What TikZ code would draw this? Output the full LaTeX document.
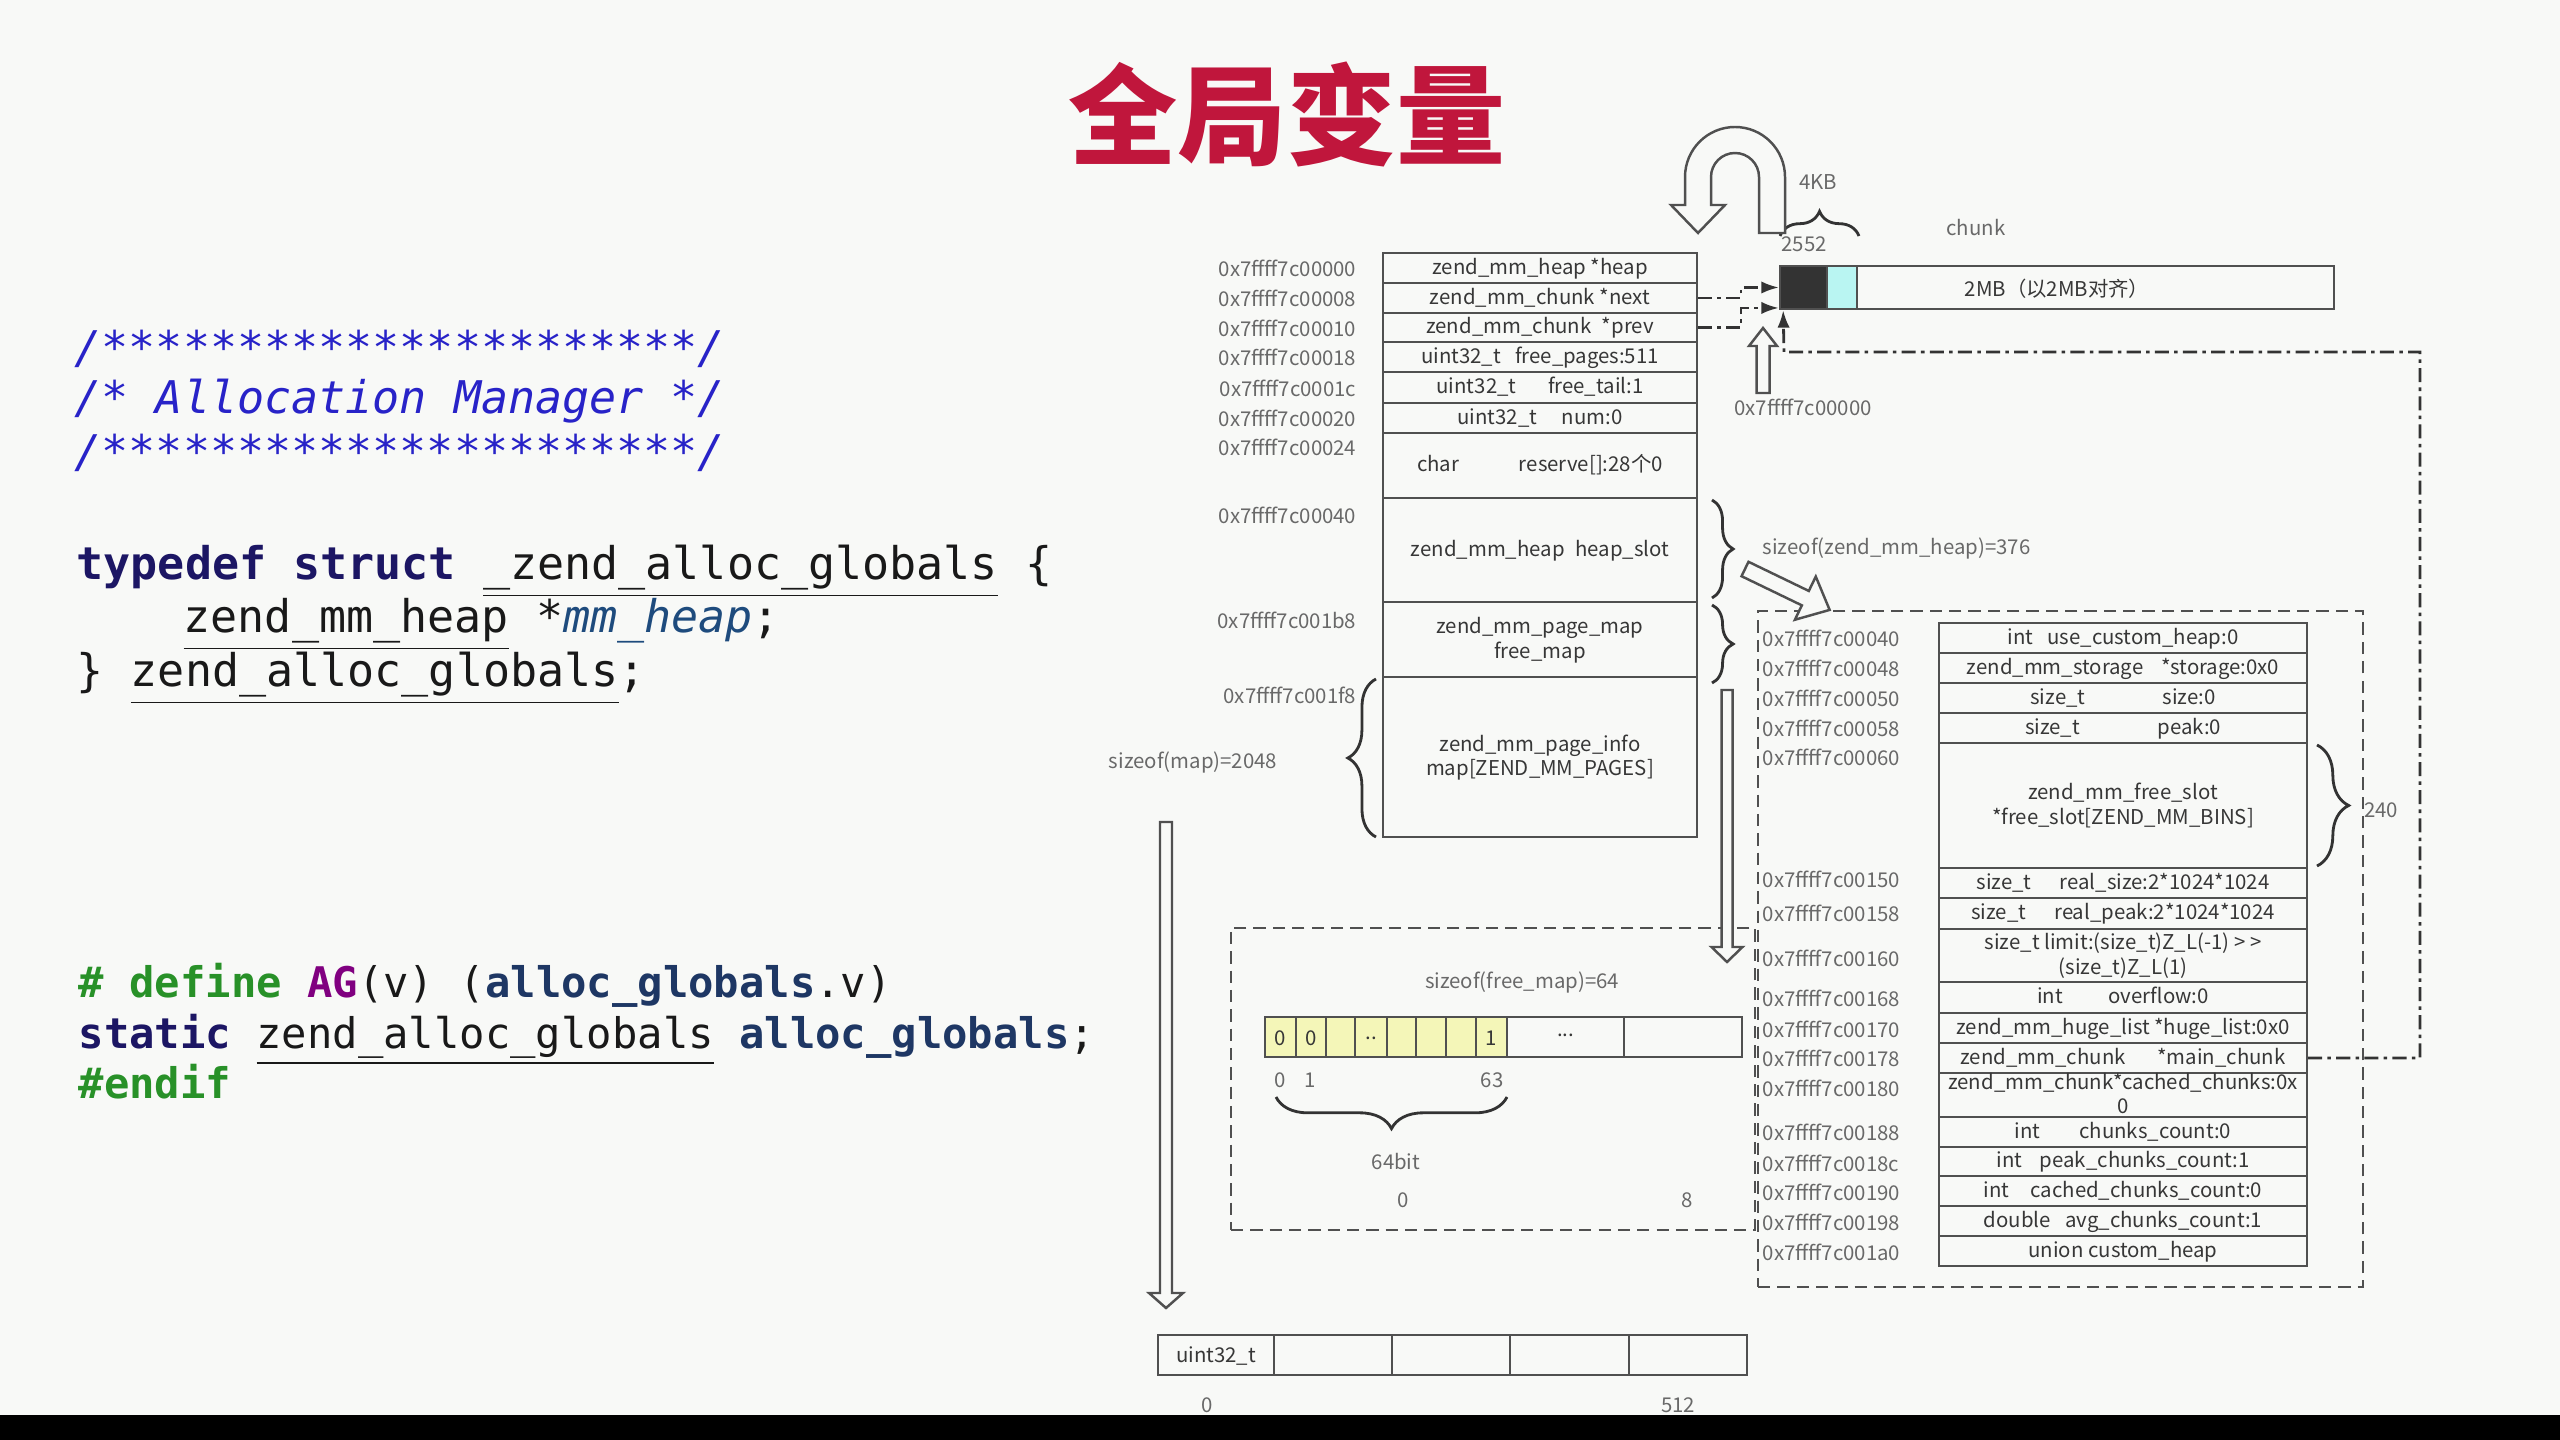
\documentclass[tikz,border=0pt]{standalone}
\usepackage{fontspec}
\usetikzlibrary{arrows.meta,decorations.pathreplacing,fit}
\newfontfamily\cjk{Noto Sans CJK SC}
\newfontfamily\codefont{DejaVu Sans Mono}
\definecolor{bgc}{RGB}{248,249,247}
\definecolor{lc}{RGB}{80,80,80}
\definecolor{tc}{RGB}{55,55,55}
\definecolor{ac}{RGB}{105,105,105}
\definecolor{yel}{RGB}{244,246,184}
\definecolor{cyn}{RGB}{185,245,242}
\definecolor{titlered}{RGB}{192,22,60}
\definecolor{kwnavy}{RGB}{28,22,100}
\definecolor{idblue}{RGB}{30,55,100}
\definecolor{itblue}{RGB}{30,75,125}
\definecolor{cmblue}{RGB}{40,35,200}
\definecolor{ppgreen}{RGB}{40,145,40}
\definecolor{agpurple}{RGB}{128,0,128}
\tikzset{
  cell/.style={draw=lc, line width=.6pt, inner sep=0pt},
  celltxt/.style={inner sep=0pt, yshift=-.4pt, text=tc, font=\cjk\fontsize{5.8}{7}\selectfont},
  addr/.style={inner sep=0pt, text=ac, font=\cjk\fontsize{5.8}{7}\selectfont},
  code/.style={anchor=base west, inner sep=0pt, text=black!90, font=\codefont\fontsize{12.8}{15}\selectfont},
  code2/.style={code, font=\codefont\fontsize{12}{14}\selectfont},
  dsh/.style={draw=lc, line width=.8pt, dash pattern=on 3.5pt off 2pt, inner sep=0pt},
  ptr/.style={draw=black!80, line width=.8pt, dash pattern=on 4pt off 1.5pt on 1pt off 1.5pt, -{Latex[length=5pt,width=3.5pt]}},
  brc/.style={draw=black!80, line width=.8pt, decorate, decoration={brace, amplitude=#1}},
  hol/.style={draw=lc, line width=.7pt, fill=bgc},
  pics/hollow/.style n args={4}{code={
    \draw[hol] (0,-#2) -- (#1-#4,-#2) -- (#1-#4,-#3) -- (#1,0) -- (#1-#4,#3) -- (#1-#4,#2) -- (0,#2) -- cycle;}}
}
\newcommand{\ctr}[1]{\begin{tabular}{@{}c@{}}#1\end{tabular}}
\begin{document}
\begin{tikzpicture}[x=0.01cm, y=-0.01cm]

	\fill[bgc] (0,0) rectangle (2560,1440);
	\fill[black] (0,1415) rectangle (2560,1440);

	% title
	\node[text=titlered, font=\cjk\bfseries\fontsize{31}{34}\selectfont] (title) at (1287,114) {全局变量};

	% source code
	\node[code, text=cmblue] (c1) at (74,364) {\itshape /**********************/};
	\node[code, text=cmblue] (c2) at (74,414) {\itshape /* Allocation Manager */};
	\node[code, text=cmblue] (c3) at (74,468) {\itshape /**********************/};
	\node[code] (c4) at (76,580) {{\bfseries\color{kwnavy}typedef struct} \underline{\_zend\_alloc\_globals} \{};
	\node[code] (c5) at (183,633) {\underline{zend\_mm\_heap} *{\itshape\color{itblue}mm\_heap};};
	\node[code] (c6) at (76,687) {\} \underline{zend\_alloc\_globals};};
	\node[code2] (c7) at (78,998) {{\bfseries\color{ppgreen}\# define} {\bfseries\color{agpurple}AG}(v) ({\bfseries\color{idblue}alloc\_globals}.v)};
	\node[code2] (c8) at (78,1048) {{\bfseries\color{kwnavy}static} \underline{zend\_alloc\_globals} {\bfseries\color{idblue}alloc\_globals};};
	\node[code2] (c9) at (78,1098) {{\bfseries\color{ppgreen}\#endif}};

	% zend_mm_chunk
	\foreach \yt/\yb/\yl/\ad/\tx [count=\i] in {
		253/283/268/0x7ffff7c00000/{zend\_mm\_heap *heap},
		283/313/298/0x7ffff7c00008/{zend\_mm\_chunk *next},
		313/342/328/0x7ffff7c00010/{zend\_mm\_chunk\hspace{3pt}*prev},
		342/372/357/0x7ffff7c00018/{uint32\_t\hspace{4pt}free\_pages:511},
		372/403/388/0x7ffff7c0001c/{uint32\_t\hspace{9pt}free\_tail:1},
		403/433/418/0x7ffff7c00020/{uint32\_t\hspace{7pt}num:0},
		433/498/447/0x7ffff7c00024/{char\hspace{17pt}reserve[]:28个0},
		498/602/515/0x7ffff7c00040/{zend\_mm\_heap\hspace{3pt}heap\_slot},
		602/677/620/0x7ffff7c001b8/{zend\_mm\_page\_map\\free\_map},
		677/837/695/0x7ffff7c001f8/{zend\_mm\_page\_info\\map[ZEND\_MM\_PAGES]}}
	{
		\node[cell, fit={(1383,\yt)(1697,\yb)}] (m\i) {};
		\node[celltxt] (mt\i) at (m\i.center) {\ctr{\tx}};
		\node[addr, anchor=east] (ma\i) at (1357,\yl) {\ad};
	}

	\draw[brc=8pt] (1376,837) -- (1376,679);
	\node[addr] (t2048) at (1193,762) {sizeof(map)=2048};
	\draw[brc=6pt] (1712,500) -- (1712,598);
	\draw[brc=6pt] (1712,605) -- (1712,683);
	\node[addr, anchor=west] (t376) at (1762,548) {sizeof(zend\_mm\_heap)=376};

	% chunk
	\node[cell, fit={(1780,266)(2334,309)}] (chk) {};
	\node[celltxt] (chkt) at (chk.center) {2MB（以2MB对齐）};
	\node[cell, fill=black!80, fit={(1780,266)(1827,309)}] (blk) {};
	\node[cell, fill=cyn, fit={(1827,266)(1857,309)}] (cy) {};
	\node[addr] (tchunk) at (1976,228) {chunk};
	\draw[brc=7pt] (1780,236) -- (1859,236);
	\node[addr] (t4kb) at (1818,182) {4KB};
	\node[addr] (t2552) at (1804,244) {2552};
	\node[addr] (tbase) at (1803,407) {0x7ffff7c00000};

	\draw[hol] (1785,233) -- (1785,177) arc[start angle=0, end angle=-180, radius=50]
		-- (1685,205) -- (1671,205) -- (1698,233) -- (1725,205) -- (1711,205) -- (1711,177)
		arc[start angle=180, end angle=360, radius=24] -- (1759,233) -- cycle;
	\pic[rotate=90] at (1763,393) {hollow={65}{6.5}{14}{18}};

	\draw[ptr] (m2.east) -- (1741,298) |- (blk.west);
	\draw[ptr] (m3.east) -- (1741,327.5) |- ([yshift=.6pt]blk.south west);

	% zend_mm_heap
	\node[dsh, fit={(1758,611)(2363,1287)}] (hp) {};
	\foreach \yt/\yb/\yl/\ad/\tx [count=\i] in {
		623/653/638/0x7ffff7c00040/{int\hspace{4pt}use\_custom\_heap:0},
		653/683/668/0x7ffff7c00048/{zend\_mm\_storage\hspace{5pt}*storage:0x0},
		683/713/698/0x7ffff7c00050/{size\_t\hspace{22pt}size:0},
		713/743/728/0x7ffff7c00058/{size\_t\hspace{22pt}peak:0},
		743/868/757/0x7ffff7c00060/{zend\_mm\_free\_slot\\{}*free\_slot[ZEND\_MM\_BINS]},
		868/898/879/0x7ffff7c00150/{size\_t\hspace{8pt}real\_size:2*1024*1024},
		898/929/913/0x7ffff7c00158/{size\_t\hspace{8pt}real\_peak:2*1024*1024},
		929/982/958/0x7ffff7c00160/{size\_t limit:(size\_t)Z\_L(-1) > >\\(size\_t)Z\_L(1)},
		982/1013/998/0x7ffff7c00168/{int\hspace{13pt}overflow:0},
		1013/1043/1029/0x7ffff7c00170/{zend\_mm\_huge\_list *huge\_list:0x0},
		1043/1073/1058/0x7ffff7c00178/{zend\_mm\_chunk\hspace{9pt}*main\_chunk},
		1073/1117/1088/0x7ffff7c00180/{zend\_mm\_chunk*cached\_chunks:0x\\0},
		1117/1147/1132/0x7ffff7c00188/{int\hspace{11pt}chunks\_count:0},
		1147/1176/1163/0x7ffff7c0018c/{int\hspace{5pt}peak\_chunks\_count:1},
		1176/1206/1192/0x7ffff7c00190/{int\hspace{6pt}cached\_chunks\_count:0},
		1206/1236/1222/0x7ffff7c00198/{double\hspace{4pt}avg\_chunks\_count:1},
		1236/1266/1252/0x7ffff7c001a0/{union custom\_heap}}
	{
		\node[cell, fit={(1939,\yt)(2307,\yb)}] (h\i) {};
		\node[celltxt] (ht\i) at (h\i.center) {\ctr{\tx}};
		\node[addr, anchor=west] (ha\i) at (1762,\yl) {\ad};
	}
	\draw[brc=9pt] (2317,745) -- (2317,866);
	\node[addr] (t240) at (2381,810) {240};
	\pic[rotate=-25.8] at (1745,569) {hollow={94}{8}{24}{27}};

	\draw[ptr] (h11.east) -- (2420,1058) |- (1784,352) -- ([xshift=1.2pt]blk.south west);

	% free_map
	\node[dsh, fit={(1231,928)(1755,1230)}] (fmbox) {};
	\pic[rotate=-90] at (1727,690) {hollow={272}{5.5}{15.5}{15}};
	\node[addr] (t64) at (1522,982) {sizeof(free\_map)=64};
	\foreach \xa/\xb/\tx [count=\i] in {1265/1296/0, 1296/1326/0, 1326/1355/{}, 1355/1387/.., 1387/1416/{}, 1416/1446/{}, 1446/1476/{}, 1476/1507/1}
	{
		\node[cell, fill=yel, fit={(\xa,1017)(\xb,1057)}] (fm\i) {};
		\node[celltxt] (fmt\i) at (fm\i.center) {\tx};
	}
	\node[cell, fit={(1507,1017)(1624,1057)}] (fm9) {};
	\node[celltxt] (fmt9) at ([yshift=1pt]fm9.center) {...};
	\node[cell, fit={(1624,1017)(1742,1057)}] (fm10) {};
	\node[addr] (b0) at (1280,1080) {0};
	\node[addr] (b1) at (1310,1080) {1};
	\node[addr] (b63) at (1492,1080) {63};
	\draw[brc=9pt] (1507,1097) -- (1276,1097);
	\node[addr] (t64bit) at (1396,1162) {64bit};
	\node[addr] (w0) at (1403,1200) {0};
	\node[addr] (w8) at (1687,1200) {8};

	% map
	\pic[rotate=-90] at (1166,822) {hollow={486}{6}{17}{15}};
	\foreach \xa/\xb/\tx [count=\i] in {1158/1274/uint32\_t, 1274/1392/{}, 1392/1510/{}, 1510/1629/{}, 1629/1747/{}}
	{
		\node[cell, fit={(\xa,1335)(\xb,1375)}] (pm\i) {};
		\node[celltxt] (pmt\i) at (pm\i.center) {\tx};
	}
	\node[addr] (p0) at (1207,1405) {0};
	\node[addr] (p512) at (1678,1405) {512};

\end{tikzpicture}
\end{document}
